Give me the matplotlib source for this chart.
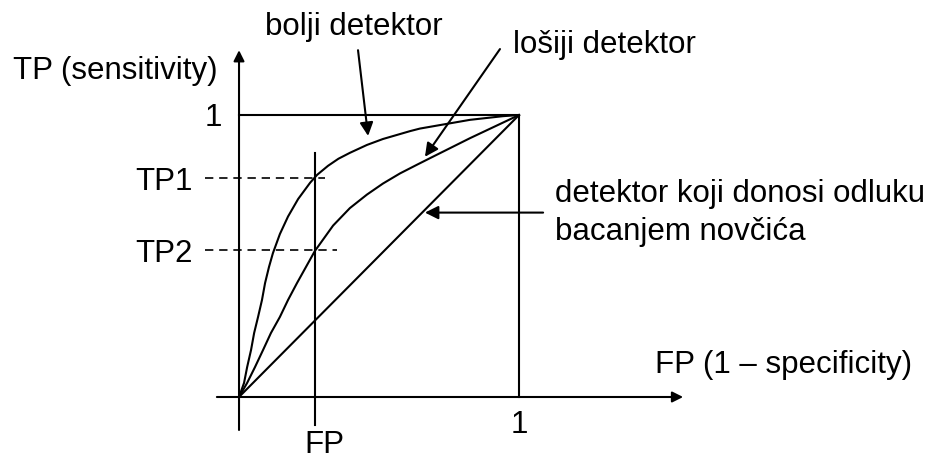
"""
ROC sketch: bolji / losiji detektor and the coin-toss diagonal.
"""

from matplotlib import pyplot as plt
import matplotlib as mpl

mpl.rcParams['font.family'] = ['Liberation Sans', 'DejaVu Sans']

# points (FP, TP)
better_fp = [0.0, 0.018, 0.029, 0.043, 0.054, 0.068, 0.082, 0.093, 0.107, 0.121,
             0.146, 0.175, 0.211, 0.254, 0.279, 0.318, 0.355, 0.396, 0.457, 0.514,
             0.611, 0.646, 0.825, 0.943, 1.0]
better_tp = [0.0, 0.050, 0.106, 0.167, 0.227, 0.284, 0.344, 0.404, 0.461, 0.510,
             0.578, 0.640, 0.702, 0.760, 0.788, 0.820, 0.845, 0.866, 0.894, 0.915,
             0.943, 0.952, 0.983, 0.996, 1.0]

worse_fp = [0.0, 0.029, 0.057, 0.086, 0.114, 0.146, 0.175, 0.207, 0.239, 0.271,
            0.336, 0.396, 0.457, 0.514, 0.575, 0.636, 0.682, 0.825, 1.0]
worse_tp = [0.0, 0.050, 0.106, 0.167, 0.227, 0.284, 0.344, 0.404, 0.461, 0.518,
            0.608, 0.670, 0.718, 0.757, 0.793, 0.824, 0.847, 0.918, 1.0]

coin_fp = [0.0, 1.0]
coin_tp = [0.0, 1.0]

FP = 0.27
TP1 = 0.775
TP2 = 0.52

FS = 22.5
LW = 1.5


def arrow(ax, start, tip, scale=20):
    ax.annotate("", xy=tip, xytext=start,
                arrowprops=dict(arrowstyle='-|>', lw=LW, color='black',
                                mutation_scale=scale, shrinkA=0, shrinkB=0))


def main():
    fig = plt.figure(figsize=(9.41, 4.59), dpi=100)
    ax = fig.add_axes([0, 0, 1, 1])
    ax.set_xlim(-0.8536, 2.507)
    ax.set_ylim(-0.2199, 1.408)
    ax.axis('off')

    # axes with arrows
    arrow(ax, (-0.079, 0), (1.586, 0), scale=16)
    arrow(ax, (0, -0.117), (0, 1.23), scale=16)

    # unit box
    ax.plot([0, 1, 1], [1, 1, 0], color='black', lw=LW)

    # curves
    ax.plot(better_fp, better_tp, color='black', lw=LW)
    ax.plot(worse_fp, worse_tp, color='black', lw=LW)
    ax.plot(coin_fp, coin_tp, color='black', lw=LW)

    # FP marker line and TP dashed guides
    ax.plot([FP, FP], [-0.099, 0.865], color='black', lw=LW)
    ax.plot([-0.121, 0.307], [TP1, TP1], color='black', lw=1.2, dashes=(5, 3.5))
    ax.plot([-0.121, 0.35], [TP2, TP2], color='black', lw=1.2, dashes=(5, 3.5))

    # annotation arrows
    arrow(ax, (0.425, 1.230), (0.461, 0.926))
    arrow(ax, (0.932, 1.234), (0.664, 0.852))
    arrow(ax, (1.086, 0.654), (0.664, 0.654))

    kw = dict(fontsize=FS, va='baseline')
    ax.text(-0.807, 1.128, "TP (sensitivity)", ha='left', **kw)
    ax.text(-0.061, 0.961, "1", ha='right', **kw)
    ax.text(-0.164, 0.734, "TP1", ha='right', **kw)
    ax.text(-0.164, 0.479, "TP2", ha='right', **kw)
    ax.text(1.0, -0.128, "1", ha='center', **kw)
    ax.text(0.304, -0.198, "FP", ha='center', **kw)
    ax.text(1.486, 0.085, "FP (1 \u2013 specificity)", ha='left', **kw)
    ax.text(0.093, 1.284, "bolji detektor", ha='left', **kw)
    ax.text(0.979, 1.22, "lošiji detektor", ha='left', **kw)
    ax.text(1.129, 0.691, "detektor koji donosi odluku", ha='left', **kw)
    ax.text(1.129, 0.557, "bacanjem novčića", ha='left', **kw)

    fig.savefig('out.png', dpi=100)


main()
